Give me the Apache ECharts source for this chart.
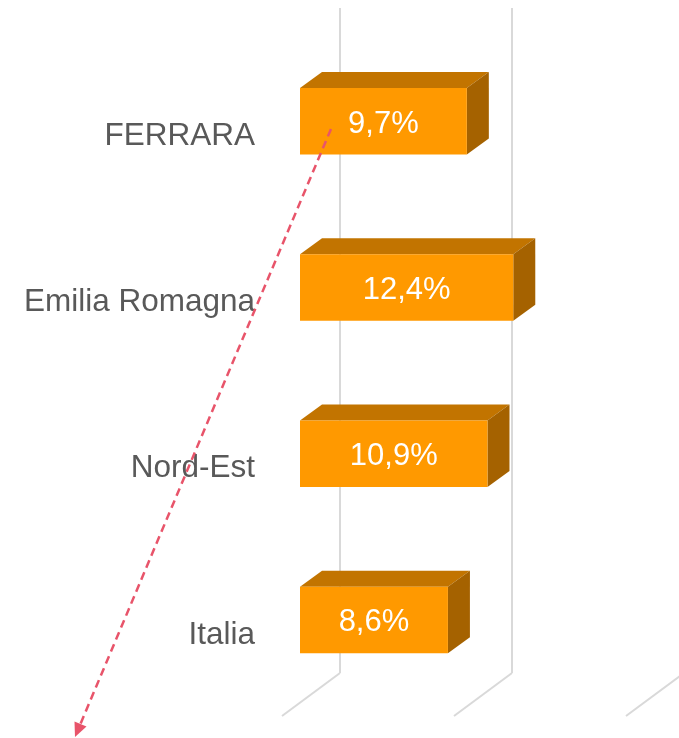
<!DOCTYPE html>
<html>
<head>
<meta charset="utf-8">
<script src="https://cdn.jsdelivr.net/npm/echarts@6/dist/echarts.min.js"></script>
<style>
html,body{margin:0;padding:0;background:#fff;}
#chart{width:679px;height:738px;}
</style>
</head>
<body>
<div id="chart"></div>
<script>
const categories = ['FERRARA', 'Emilia Romagna', 'Nord-Est', 'Italia'];
const values = [9.7, 12.4, 10.9, 8.6];
const gridTicks = [0, 10, 20];

const chart = echarts.init(document.getElementById('chart'));

const DX = 22, DY = -16;
const FRONT = '#FF9900', TOP = '#C27400', SIDE = '#A56200';

function fmt(v) { return v.toFixed(1).replace('.', ',') + '%'; }

const option = {
  animation: false,
  backgroundColor: '#ffffff',
  grid: { left: 300, width: 344, top: 38, bottom: 35 },
  xAxis: {
    type: 'value', min: 0, max: 20, interval: 10,
    axisLine: { show: false }, axisTick: { show: false },
    axisLabel: { show: false }, splitLine: { show: false }
  },
  yAxis: {
    type: 'category', inverse: true, data: categories,
    axisLine: { show: false }, axisTick: { show: false },
    axisLabel: {
      fontSize: 31.5, color: '#595959', fontFamily: 'Liberation Sans, Arial, sans-serif',
      margin: 45, verticalAlign: 'top', lineHeight: 30
    }
  },
  series: [
    {
      type: 'custom', z: 1, clip: false, silent: true,
      data: gridTicks.map(t => [t, 0]),
      renderItem: function (params, api) {
        const cs = params.coordSys;
        const x = api.coord([api.value(0), 0])[0];
        const bottom = cs.y + cs.height;
        const bx = x + 40, by = bottom - 30;
        const style = { stroke: '#D9D9D9', lineWidth: 2 };
        return {
          type: 'group',
          children: [
            { type: 'line', shape: { x1: bx, y1: 8, x2: bx, y2: by }, style: style },
            { type: 'line', shape: { x1: bx, y1: by, x2: bx - 58, y2: by + 43 }, style: style }
          ]
        };
      }
    },
    {
      type: 'custom', z: 2, clip: false,
      data: values.map((v, i) => [v, i]),
      renderItem: function (params, api) {
        const v = api.value(0), c = api.value(1);
        const p0 = api.coord([0, c]);
        const p1 = api.coord([v, c]);
        const h = api.size([0, 1])[1] * 0.4;
        const top = p0[1] - h / 2, bot = p0[1] + h / 2;
        const x0 = p0[0], x1 = p1[0];
        return {
          type: 'group',
          children: [
            { type: 'polygon', shape: { points: [[x0, top], [x1, top], [x1 + DX, top + DY], [x0 + DX, top + DY]] }, style: { fill: TOP } },
            { type: 'polygon', shape: { points: [[x1, top], [x1 + DX, top + DY], [x1 + DX, bot + DY], [x1, bot]] }, style: { fill: SIDE } },
            { type: 'rect', shape: { x: x0, y: top, width: x1 - x0, height: h }, style: { fill: FRONT } },
            { type: 'text', x: (x0 + x1) / 2, y: p0[1] + 3, style: {
                text: fmt(v), fill: '#ffffff', fontSize: 31,
                fontFamily: 'Liberation Sans, Arial, sans-serif',
                align: 'center', verticalAlign: 'middle' } }
          ]
        };
      }
    }
  ],
  graphic: [
    { type: 'line', z: 100, shape: { x1: 331, y1: 129, x2: 80.4, y2: 724.1 },
      style: { stroke: '#E8546A', lineWidth: 2.5, lineDash: [8, 5] } },
    { type: 'polygon', z: 100, shape: { points: [[75, 737], [86.5, 726.5], [74.5, 721.5]] },
      style: { fill: '#E8546A' } }
  ]
};
chart.setOption(option);
</script>
</body>
</html>
